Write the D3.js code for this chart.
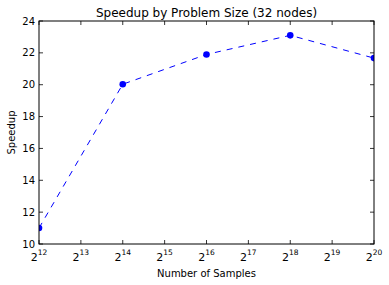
<!DOCTYPE html>
<html>
<head>
<meta charset="utf-8">
<script src="https://cdn.jsdelivr.net/npm/d3@7"></script>
<style>
  body { margin: 0; background: #fff; }
  svg { font-family: "DejaVu Sans", sans-serif; }
</style>
</head>
<body>
<div id="chart"></div>
<script>
// data
const exponents = [12, 14, 16, 18, 20];
const speedup = [11.0, 20.03, 21.9, 23.1, 21.67];
const xTickExponents = [12, 13, 14, 15, 16, 17, 18, 19, 20];
const yTicks = [10, 12, 14, 16, 18, 20, 22, 24];

const width = 389, height = 285;
const margin = { top: 21, right: 15, bottom: 41, left: 39 };
const w = width - margin.left - margin.right;
const h = height - margin.top - margin.bottom;

const svg = d3.select("#chart").append("svg")
  .attr("width", width)
  .attr("height", height);

svg.append("defs").append("clipPath").attr("id", "plotclip")
  .append("rect").attr("width", w).attr("height", h);

const x = d3.scaleLog().base(2)
  .domain([Math.pow(2, 12), Math.pow(2, 20)])
  .range([0, w]);
const y = d3.scaleLinear().domain([10, 24]).range([h, 0]);

const g = svg.append("g")
  .attr("transform", `translate(${margin.left},${margin.top})`);

// ticks inside, on all four sides (matplotlib classic)
const tickLen = 4;
xTickExponents.forEach(e => {
  const px = x(Math.pow(2, e));
  g.append("line").attr("x1", px).attr("x2", px).attr("y1", h).attr("y2", h - tickLen)
    .attr("stroke", "#000").attr("stroke-width", 0.8);
  g.append("line").attr("x1", px).attr("x2", px).attr("y1", 0).attr("y2", tickLen)
    .attr("stroke", "#000").attr("stroke-width", 0.8);
  const t = g.append("text")
    .attr("x", px).attr("y", h + 17)
    .attr("text-anchor", "middle")
    .attr("font-size", 11)
    .attr("fill", "#000");
  t.append("tspan").text("2");
  t.append("tspan").attr("dy", -6).attr("font-size", 7.5).text(e);
});

yTicks.forEach(v => {
  const py = y(v);
  g.append("line").attr("x1", 0).attr("x2", tickLen).attr("y1", py).attr("y2", py)
    .attr("stroke", "#000").attr("stroke-width", 0.8);
  g.append("line").attr("x1", w).attr("x2", w - tickLen).attr("y1", py).attr("y2", py)
    .attr("stroke", "#000").attr("stroke-width", 0.8);
  g.append("text")
    .attr("x", -4).attr("y", py).attr("dy", "0.35em")
    .attr("text-anchor", "end")
    .attr("font-size", 10)
    .attr("fill", "#000")
    .text(v);
});

// data line + markers, clipped to the axes
const line = d3.line()
  .x((d, i) => x(Math.pow(2, exponents[i])))
  .y(d => y(d));

const plot = g.append("g").attr("clip-path", "url(#plotclip)");

plot.append("path")
  .datum(speedup)
  .attr("d", line)
  .attr("fill", "none")
  .attr("stroke", "#0000ff")
  .attr("stroke-width", 1)
  .attr("stroke-dasharray", "6,6");

plot.selectAll("circle.pt")
  .data(speedup)
  .enter().append("circle")
  .attr("class", "pt")
  .attr("cx", (d, i) => x(Math.pow(2, exponents[i])))
  .attr("cy", d => y(d))
  .attr("r", 3.3)
  .attr("fill", "#0000ff");

// axes border drawn on top
g.append("rect")
  .attr("width", w).attr("height", h)
  .attr("fill", "none")
  .attr("stroke", "#000")
  .attr("stroke-width", 1);

// title and labels
svg.append("text")
  .attr("x", margin.left + w / 2).attr("y", 17)
  .attr("text-anchor", "middle")
  .attr("font-size", 12)
  .text("Speedup by Problem Size (32 nodes)");

svg.append("text")
  .attr("x", margin.left + w / 2).attr("y", 277)
  .attr("text-anchor", "middle")
  .attr("font-size", 10)
  .text("Number of Samples");

svg.append("text")
  .attr("transform", `translate(15,${margin.top + h / 2}) rotate(-90)`)
  .attr("text-anchor", "middle")
  .attr("font-size", 10)
  .text("Speedup");
</script>
</body>
</html>
